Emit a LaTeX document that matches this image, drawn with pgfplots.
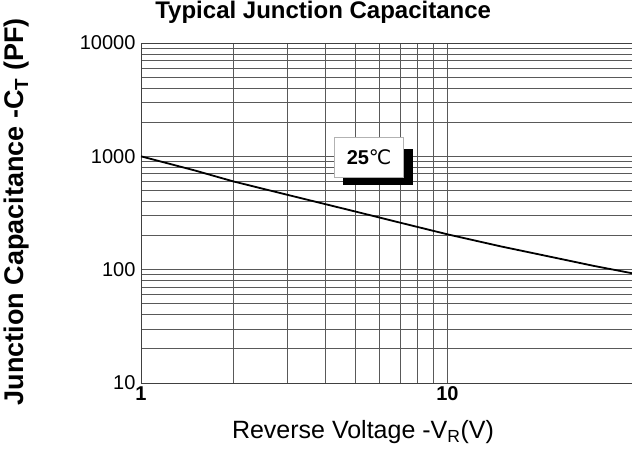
\documentclass[border=0pt]{standalone}
\usepackage{fontspec}
\setmainfont{Liberation Sans}
\newfontfamily\dejavu{DejaVu Sans}
\usepackage{pgfplots}
\pgfplotsset{compat=1.18}

\begin{document}
\begin{tikzpicture}
\path[use as bounding box] (0,0) rectangle (632bp,451bp);
\begin{axis}[
    at={(141bp,68bp)},
    scale only axis,
    width=491bp, height=340bp,
    xmode=log, ymode=log,
    xmin=1, xmax=40, ymin=10, ymax=10000,
    xtick={1,10}, xticklabels={\textbf{1},\textbf{10}},
    ytick={10,100,1000,10000}, yticklabels={10,100,1000,10000},
    major tick length=0pt, minor tick length=0pt,
    grid=both,
    major grid style={gray!70!black, line width=0.8bp},
    minor grid style={gray!70!black, line width=0.8bp},
    axis line style={gray!50!black, line width=0.9bp},
    tick label style={font=\fontsize{20bp}{22bp}\selectfont},
    yticklabel style={xshift=-2bp},
    title={\textbf{Typical Junction Capacitance}},
    title style={font=\fontsize{24bp}{27bp}\selectfont, at={(axis description cs:0.371,1.054)}, anchor=base},
    xlabel={Reverse Voltage -V\textsubscript{R}(V)},
    xlabel style={font=\fontsize{25bp}{28bp}\selectfont, at={(axis description cs:0.452,-0.144)}, anchor=center},
    ylabel={\textbf{Junction Capacitance -C\textsubscript{T} (PF)}},
    ylabel style={font=\fontsize{27bp}{30bp}\selectfont, at={(axis description cs:-0.253,0.504)}, anchor=center},
    clip=false,
]
\addplot[black, line width=1.8bp] coordinates {
    (1,1000) (1.5,750) (2,601) (3,458) (5,326) (7,260) (10,205) (15,160) (20,136) (30,108) (40,93)
};
\fill[black] (axis cs:4.57,1153) rectangle (axis cs:7.74,555);
\filldraw[fill=white, draw=gray!60] (axis cs:4.27,1472) rectangle (axis cs:7.18,653);
\node[font=\fontsize{20bp}{22bp}\selectfont] at (axis cs:5.55,985) {\textbf{25}{\dejavu ℃}};
\end{axis}
\end{tikzpicture}
\end{document}
